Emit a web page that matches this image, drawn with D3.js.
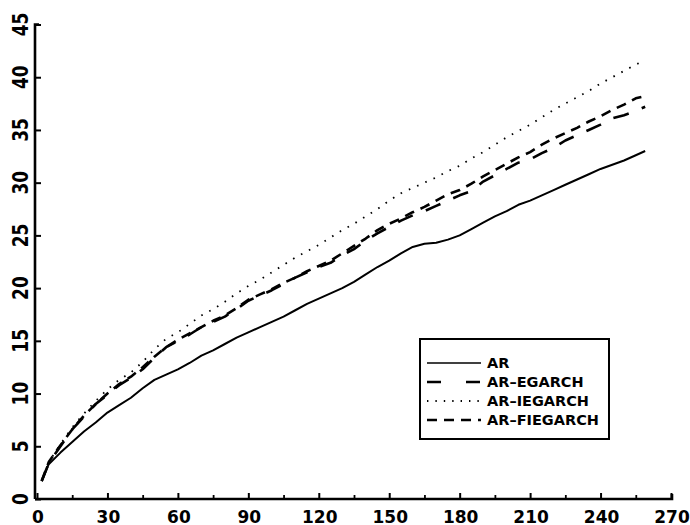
<!DOCTYPE html>
<html>
<head>
<meta charset="utf-8">
<script src="https://cdn.jsdelivr.net/npm/d3@7/dist/d3.min.js"></script>
<style>
  body { margin: 0; background: #fff; }
  text { font-family: "DejaVu Sans", sans-serif; font-weight: bold; fill: #000; }
</style>
</head>
<body>
<div class="chart"></div>
<script>
// horizon (x) and the four forecast curves
var horizon = [2, 5, 10, 15, 20, 25, 30, 35, 40, 45, 50, 55, 60, 65, 70, 75, 80, 85, 90, 95,
    100, 105, 110, 115, 120, 125, 130, 135, 140, 145, 150, 155, 160, 165, 170, 175, 180, 185, 190, 195,
    200, 205, 210, 215, 220, 225, 230, 235, 240, 245, 250, 255, 259];

var ar = [1.7, 3.3, 4.4, 5.4, 6.4, 7.25, 8.2, 8.9, 9.6, 10.5, 11.3, 11.8, 12.3, 12.9, 13.6, 14.1, 14.7, 15.3, 15.8, 16.3,
    16.8, 17.3, 17.9, 18.5, 19.0, 19.5, 20.0, 20.6, 21.3, 22.0, 22.6, 23.3, 23.9, 24.2, 24.3, 24.6, 25.0, 25.6, 26.2, 26.8,
    27.3, 27.9, 28.3, 28.8, 29.3, 29.8, 30.3, 30.8, 31.3, 31.7, 32.1, 32.6, 33.0];

var arEgarch = [1.7, 3.4, 5.0, 6.6, 7.8, 9.0, 9.9, 10.8, 11.5, 12.3, 13.4, 14.4, 15.0, 15.6, 16.3, 16.8, 17.3, 18.0, 18.8, 19.3,
    19.8, 20.4, 21.0, 21.5, 22.0, 22.4, 23.1, 23.7, 24.5, 25.2, 25.8, 26.4, 26.9, 27.3, 27.8, 28.3, 28.8, 29.2, 30.1, 30.7,
    31.3, 31.9, 32.2, 32.8, 33.3, 34.0, 34.5, 35.0, 35.5, 36.1, 36.4, 36.8, 37.2];

var arIegarch = [1.7, 3.5, 5.2, 6.8, 8.1, 9.3, 10.4, 11.3, 12.0, 13.0, 14.2, 15.2, 15.8, 16.6, 17.4, 18.0, 18.7, 19.5, 20.2, 20.8,
    21.5, 22.2, 22.9, 23.5, 24.1, 24.8, 25.5, 26.1, 26.8, 27.5, 28.3, 29.0, 29.5, 30.0, 30.5, 31.1, 31.6, 32.3, 32.9, 33.6,
    34.3, 34.9, 35.5, 36.2, 36.9, 37.5, 38.1, 38.7, 39.4, 40.0, 40.6, 41.2, 41.6];

var arFiegarch = [1.7, 3.5, 5.1, 6.6, 7.9, 9.0, 10.0, 10.9, 11.6, 12.5, 13.5, 14.4, 15.1, 15.7, 16.3, 16.9, 17.4, 18.1, 18.9, 19.4,
    19.9, 20.5, 21.0, 21.6, 22.1, 22.6, 23.3, 24.0, 24.7, 25.5, 26.1, 26.6, 27.2, 27.7, 28.3, 28.9, 29.3, 29.9, 30.6, 31.2,
    31.8, 32.4, 32.9, 33.6, 34.2, 34.7, 35.2, 35.8, 36.3, 36.9, 37.4, 38.0, 38.2];

var xTicks = [0, 30, 60, 90, 120, 150, 180, 210, 240, 270];
var xMinorTicks = [15, 45, 75, 105, 135, 165, 195, 225, 255];
var yTicks = [0, 5, 10, 15, 20, 25, 30, 35, 40, 45];

var seriesNames = ["AR", "AR\u2013EGARCH", "AR\u2013IEGARCH", "AR\u2013FIEGARCH"];
var seriesValues = [ar, arEgarch, arIegarch, arFiegarch];
var seriesDash = [null, "16,14", "1.6,7.4", "10,7"];
var seriesWidth = [2, 2.6, 1.8, 2.6];

var svgWidth = 690;
var svgHeight = 525;

var svg = d3.select(".chart")
    .append("svg")
    .attr("width", svgWidth).attr("height", svgHeight);

var xScale = d3.scaleLinear().domain([0, 270]).range([37, 671]);
var yScale = d3.scaleLinear().domain([0, 45]).range([499, 24.5]);

// axes: ticks point inward, labels drawn separately
var xAxis = svg.append("g")
    .attr("transform", "translate(0, 499)")
    .call(d3.axisTop(xScale).tickValues(xTicks).tickSize(6).tickSizeOuter(0).tickFormat(""));
xAxis.select(".domain").attr("d", "M35,0H672V-5").attr("stroke-width", 2.6);
xAxis.selectAll("line").attr("stroke-width", 2);

svg.append("g")
    .attr("transform", "translate(0, 499)")
    .call(d3.axisTop(xScale).tickValues(xMinorTicks).tickSize(4).tickFormat(""))
    .call(g => g.select(".domain").remove())
    .selectAll("line").attr("stroke-width", 1.8);

var yAxis = svg.append("g")
    .attr("transform", "translate(35, 0)")
    .call(d3.axisRight(yScale).tickValues(yTicks).tickSize(6).tickSizeOuter(0).tickFormat(""));
yAxis.select(".domain").attr("d", "M4,24.5H0V499").attr("stroke-width", 2.6);
yAxis.selectAll("line").attr("stroke-width", 2);

svg.selectAll(".xlabel")
    .data(xTicks)
    .enter()
    .append("text")
    .attr("class", "xlabel")
    .attr("x", d => xScale(d) + 1)
    .attr("y", 522.5)
    .attr("text-anchor", "middle")
    .style("font-size", "17px")
    .text(d => d);

// y labels read bottom-to-top, a little taller than the x labels
svg.selectAll(".ylabel")
    .data(yTicks)
    .enter()
    .append("text")
    .attr("class", "ylabel")
    .attr("transform", d => `translate(28, ${yScale(d)}) rotate(-90) scale(1, 1.2)`)
    .attr("text-anchor", "middle")
    .style("font-size", "17px")
    .text(d => d);

var line = d3.line()
    .x((d, i) => xScale(horizon[i]))
    .y(d => yScale(d));

svg.selectAll(".series")
    .data(seriesValues)
    .enter()
    .append("path")
    .attr("class", "series")
    .attr("d", d => line(d))
    .attr("fill", "none")
    .attr("stroke", "#000")
    .attr("stroke-width", (d, i) => seriesWidth[i])
    .attr("stroke-dasharray", (d, i) => seriesDash[i])
    .attr("stroke-linejoin", "round");

// legend
var legend = svg.append("g");
legend.append("rect")
    .attr("x", 420).attr("y", 339)
    .attr("width", 189).attr("height", 100)
    .attr("fill", "#fff")
    .attr("stroke", "#000")
    .attr("stroke-width", 2);

seriesNames.forEach(function(name, i) {
    var y = 363 + i * 19;
    legend.append("line")
        .attr("x1", 427).attr("x2", 481)
        .attr("y1", y).attr("y2", y)
        .attr("stroke", "#000")
        .attr("stroke-width", i == 0 ? 1.6 : seriesWidth[i])
        .attr("stroke-dasharray", i == 1 ? "14,25" : i == 2 ? "1.4,7" : seriesDash[i]);
    legend.append("text")
        .attr("x", 487)
        .attr("y", y + 5)
        .style("font-size", "14.5px")
        .text(name);
});
</script>
</body>
</html>
